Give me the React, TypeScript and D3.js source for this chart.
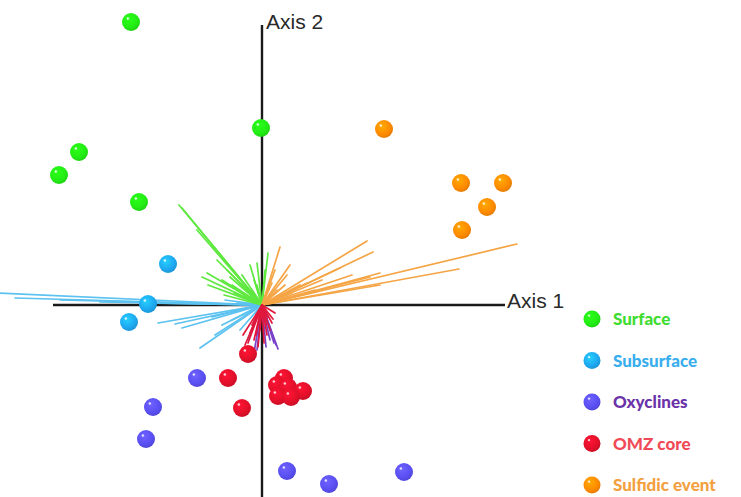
import React from 'react';
import * as d3 from 'd3';

// sample groups
const groups = ['Surface', 'Subsurface', 'Oxyclines', 'OMZ core', 'Sulfidic event'];
const pointColors = ['#22ec14', '#1ea8f0', '#5a4ff2', '#e2102a', '#ff8a00'];
const labelColors = ['#3edc30', '#38aeee', '#6a33a8', '#f04a56', '#f2a040'];
const vectorColors = ['#5fe840', '#5cc2f0', '#7a42c8', '#e0183c', '#f5a545'];

// sample scores on axis 1 / axis 2
const surfacePts = [[-1.31, 2.83], [-0.01, 1.77], [-1.83, 1.53], [-2.03, 1.3], [-1.23, 1.03]];
const subsurfacePts = [[-0.94, 0.41], [-1.14, 0.01], [-1.33, -0.17]];
const oxyclinePts = [[-0.65, -0.73], [-1.09, -1.02], [-1.16, -1.34], [0.25, -1.66], [0.67, -1.79], [1.42, -1.67]];
const omzPts = [[-0.14, -0.49], [-0.34, -0.73], [-0.2, -1.03], [0.22, -0.73], [0.15, -0.8], [0.26, -0.82], [0.41, -0.86], [0.16, -0.91], [0.29, -0.92]];
const sulfidicPts = [[1.22, 1.76], [1.99, 1.22], [2.41, 1.22], [2.25, 0.98], [2.0, 0.75]];

// OTU loading vectors
const surfaceVec = [[-0.83, 1.0], [-0.8, 0.97], [-0.55, 0.32], [-0.54, 0.2], [-0.35, 0.35], [-0.05, 0.42], [0.06, 0.52], [-0.45, 0.45], [-0.4, 0.25], [-0.3, 0.2], [-0.2, 0.3], [-0.25, 0.15], [-0.12, 0.4], [-0.08, 0.25], [-0.6, 0.28], [-0.15, 0.18], [0.03, 0.35], [-0.5, 0.6], [-0.65, 0.75], [-0.28, 0.12], [-0.18, 0.1], [-0.22, 0.22], [-0.1, 0.15], [-0.32, 0.28], [-0.38, 0.1], [-0.12, 0.08], [-0.05, 0.2]];
const subsurfaceVec = [[-2.65, 0.12], [-2.47, 0.07], [-2.02, 0.05], [-1.62, 0.03], [-1.04, -0.18], [-0.87, -0.19], [-0.8, -0.23], [-0.62, -0.43], [-0.47, -0.3], [-0.32, -0.07], [-0.37, 0.05], [-0.22, -0.25], [-0.14, -0.35], [-1.2, 0.02], [-0.5, -0.12], [-0.3, -0.15], [-0.2, -0.1], [-0.4, -0.2], [-0.25, 0.02]];
const oxyclineVec = [[0.16, -0.44], [0.12, -0.38], [0.08, -0.35], [-0.05, -0.45], [-0.08, -0.48], [0.14, -0.4], [0.1, -0.3], [0.04, -0.42]];
const omzVec = [[-0.14, -0.38], [-0.19, -0.3], [0.05, -0.3], [0.11, -0.14], [-0.04, -0.42], [-0.08, -0.35], [0.02, -0.38], [0.08, -0.25], [-0.1, -0.2], [0.13, -0.08], [-0.02, -0.25], [-0.17, -0.4], [-0.06, -0.3], [0.04, -0.2], [-0.12, -0.28], [0.06, -0.12], [-0.03, -0.15], [0.1, -0.18]];
const sulfidicVec = [[2.55, 0.61], [1.97, 0.36], [1.05, 0.64], [1.11, 0.53], [1.18, 0.32], [1.08, 0.28], [1.18, 0.2], [0.78, 0.37], [0.18, 0.58], [0.28, 0.4], [0.38, 0.2], [0.53, 0.15], [0.23, 0.2], [0.13, 0.35], [0.6, 0.25], [0.9, 0.3], [0.2, 0.1], [0.3, 0.12], [0.15, 0.15], [0.25, 0.3], [0.1, 0.22], [0.45, 0.22], [0.12, 0.05]];

const points = [surfacePts, subsurfacePts, oxyclinePts, omzPts, sulfidicPts];
const vectors = [surfaceVec, subsurfaceVec, oxyclineVec, omzVec, sulfidicVec];
const vectorOrder = [1, 0, 4, 2, 3];

const W = 741;
const H = 497;

export default function App() {
  const x = d3.scaleLinear().domain([-2.5, 2.5]).range([12, 512]);
  const y = d3.scaleLinear().domain([-2, 3]).range([505, 5]);

  const sphere = (i: number, cx: number, cy: number, r: number, key: string) => (
    <g key={key}>
      <circle cx={cx} cy={cy} r={r} fill={`url(#grad${i})`} />
      <circle cx={cx - r * 0.35} cy={cy - r * 0.4} r={r * 0.14} fill="#fff" opacity={0.8} />
    </g>
  );

  return (
    <svg width={W} height={H} style={{ position: 'absolute', left: 0, top: 0 }}>
      <defs>
        {pointColors.map((c, i) => (
          <radialGradient key={i} id={`grad${i}`} cx="40%" cy="35%" r="65%">
            <stop offset="0%" stopColor={d3.color(c)!.brighter(0.6).formatHex()} />
            <stop offset="70%" stopColor={c} />
            <stop offset="100%" stopColor={d3.color(c)!.darker(0.3).formatHex()} />
          </radialGradient>
        ))}
      </defs>
      <rect width={W} height={H} fill="#fff" />

      {/* axes */}
      <line x1={x(0)} x2={x(0)} y1={25} y2={H} stroke="#1a1a1a" strokeWidth={2.4} />
      <line x1={53} x2={505} y1={y(0)} y2={y(0)} stroke="#1a1a1a" strokeWidth={2.4} />
      <text x={266} y={29} fontFamily="Liberation Sans, Arial, sans-serif" fontSize={21} fill="#2a2a2a">Axis 2</text>
      <text x={507} y={308} fontFamily="Liberation Sans, Arial, sans-serif" fontSize={21} fill="#2a2a2a">Axis 1</text>

      {/* loading vectors */}
      {vectorOrder.map(gi => (
        <g key={gi} stroke={vectorColors[gi]} strokeWidth={1.7} strokeLinecap="round">
          {vectors[gi].map((v, j) => (
            <line key={j} x1={x(0)} y1={y(0)} x2={x(v[0])} y2={y(v[1])} />
          ))}
        </g>
      ))}

      {/* samples */}
      {points.map((pts, gi) => pts.map((p, j) => sphere(gi, x(p[0]), y(p[1]), 9, `p${gi}-${j}`)))}

      {/* legend */}
      {groups.map((g, i) => {
        const ly = 319 + i * 41.5;
        return (
          <g key={g}>
            {sphere(i, 592, ly, 8.5, `l${i}`)}
            <text x={613} y={ly + 6} fontFamily="Lato, 'Open Sans', sans-serif" fontWeight={900} fontSize={17} fill={labelColors[i]}>{g}</text>
          </g>
        );
      })}
    </svg>
  );
}
